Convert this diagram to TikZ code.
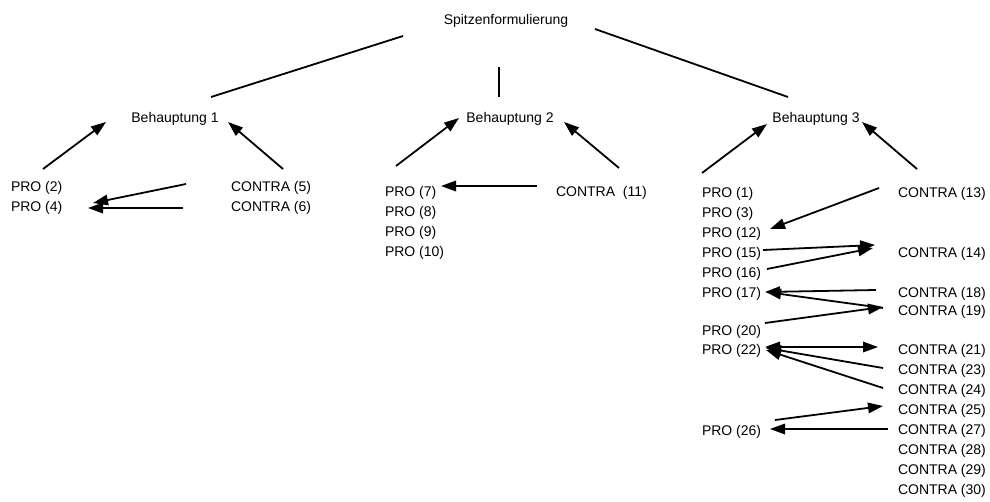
\documentclass[tikz,border=0pt]{standalone}
\usepackage{fontspec}
\setmainfont{Liberation Sans}
\usetikzlibrary{arrows.meta,calc}
\tikzset{
  txt/.style={inner sep=0pt, outer sep=0pt, font=\fontsize{14}{16}\selectfont},
  item/.style={txt, anchor=base west},
  head/.style={txt, anchor=base},
  ln/.style={line width=1.8pt},
  arr/.style={ln, -{Triangle[length=15pt,width=10.5pt]}},
  darr/.style={ln, {Triangle[length=15pt,width=10.5pt]}-{Triangle[length=15pt,width=10.5pt]}}
}
\begin{document}
\begin{tikzpicture}[x=1pt,y=-1pt]
\useasboundingbox (0,0) rectangle (990,501);
% headings
\node[head] (top) at (506,24) {Spitzenformulierung};
\node[head] (b1) at (175,122) {Behauptung 1};
\node[head] (b2) at (510,122) {Behauptung 2};
\node[head] (b3) at (816,122) {Behauptung 3};
% left cluster
\node[item] (p2) at (11,191) {PRO (2)};
\node[item] (p4) at (11,211) {PRO (4)};
\node[item] (c5) at (231,191) {CONTRA (5)};
\node[item] (c6) at (231,211) {CONTRA (6)};
% middle cluster
\node[item] (p7) at (385,196) {PRO (7)};
\node[item] (p8) at (385,216) {PRO (8)};
\node[item] (p9) at (385,236) {PRO (9)};
\node[item] (p10) at (385,256) {PRO (10)};
\node[item] (c11) at (556,196) {CONTRA\ \ (11)};
% right cluster PRO
\node[item] (p1) at (702,197) {PRO (1)};
\node[item] (p3) at (702,217) {PRO (3)};
\node[item] (p12) at (702,237) {PRO (12)};
\node[item] (p15) at (702,257) {PRO (15)};
\node[item] (p16) at (702,277) {PRO (16)};
\node[item] (p17) at (702,297) {PRO (17)};
\node[item] (p20) at (702,335) {PRO (20)};
\node[item] (p22) at (702,354) {PRO (22)};
\node[item] (p26) at (702,435) {PRO (26)};
% right cluster CONTRA
\node[item] (c13) at (898,197) {CONTRA (13)};
\node[item] (c14) at (898,257) {CONTRA (14)};
\node[item] (c18) at (898,297) {CONTRA (18)};
\node[item] (c19) at (898,315) {CONTRA (19)};
\node[item] (c21) at (898,354) {CONTRA (21)};
\node[item] (c23) at (898,374) {CONTRA (23)};
\node[item] (c24) at (898,394) {CONTRA (24)};
\node[item] (c25) at (898,414) {CONTRA (25)};
\node[item] (c27) at (898,434) {CONTRA (27)};
\node[item] (c28) at (898,454) {CONTRA (28)};
\node[item] (c29) at (898,474) {CONTRA (29)};
\node[item] (c30) at (898,494) {CONTRA (30)};
% top lines
\draw[ln] ($(top.base)+(-103,12)$) -- ($(b1.base)+(36,-25)$);
\draw[ln] ($(top.base)+(-7,43)$) -- ($(b2.base)+(-11,-25)$);
\draw[ln] ($(top.base)+(89,5)$) -- ($(b3.base)+(-28,-25)$);
% left arrows
\draw[arr] ($(p2.base west)+(32,-22)$) -- ($(b1.base)+(-69,0)$);
\draw[arr] ($(c5.base west)+(52,-22)$) -- ($(b1.base)+(53,0)$);
\draw[arr] ($(c5.base west)+(-45,-7)$) -- ($(p4.base west)+(82,-8)$);
\draw[arr] ($(c6.base west)+(-48,-3)$) -- ($(p4.base west)+(77,-3)$);
% middle arrows
\draw[arr] ($(p7.base west)+(11,-30)$) -- ($(b2.base)+(-51,-4)$);
\draw[arr] ($(c11.base west)+(63,-28)$) -- ($(b2.base)+(54,0)$);
\draw[arr] ($(c11.base west)+(-19,-10)$) -- ($(p7.base west)+(56,-10)$);
% right arrows
\draw[arr] ($(p1.base west)+(0,-24)$) -- ($(b3.base)+(-49,2)$);
\draw[arr] ($(c13.base west)+(19,-28)$) -- ($(b3.base)+(46,0)$);
\draw[arr] ($(c13.base west)+(-19,-9)$) -- ($(p12.base west)+(68,-8)$);
\draw[arr] ($(p15.base west)+(61,-7)$) -- ($(c14.base west)+(-23,-12)$);
\draw[arr] ($(p16.base west)+(65,-8)$) -- ($(c14.base west)+(-25,-9)$);
\draw[arr] ($(c18.base west)+(-22,-7)$) -- ($(p17.base west)+(63,-5)$);
\draw[arr] ($(c19.base west)+(-15,-7)$) -- ($(p17.base west)+(64,-5)$);
\draw[arr] ($(p20.base west)+(63,-12)$) -- ($(c19.base west)+(-15,-8)$);
\draw[darr] ($(p22.base west)+(63,-7)$) -- ($(c21.base west)+(-20,-7)$);
\draw[arr] ($(c23.base west)+(-15,-6)$) -- ($(p22.base west)+(64,-6)$);
\draw[arr] ($(c24.base west)+(-15,-6)$) -- ($(p22.base west)+(64,-4)$);
\draw[arr] ($(p26.base west)+(73,-15)$) -- ($(c25.base west)+(-15,-8)$);
\draw[arr] ($(c27.base west)+(-10,-5)$) -- ($(p26.base west)+(68,-6)$);
\end{tikzpicture}
\end{document}
